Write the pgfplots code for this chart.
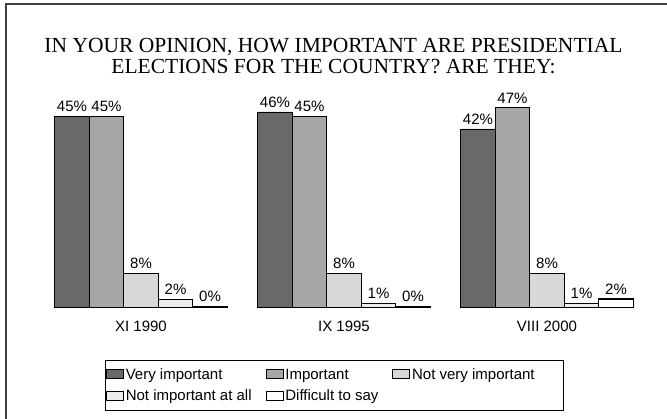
\documentclass[border=0pt]{standalone}
\usepackage{pgfplots}
\pgfplotsset{compat=1.18}
\usepackage{fontspec}
\setmainfont{Liberation Serif}
\setsansfont{Liberation Sans}
\definecolor{c1}{RGB}{105,105,105}
\definecolor{c2}{RGB}{166,166,166}
\definecolor{c3}{RGB}{216,216,216}
\definecolor{c4}{RGB}{236,236,236}
\definecolor{c5}{RGB}{255,255,255}
\newcommand{\lab}{\fontsize{15}{18}\selectfont\sffamily}
\begin{document}
\begin{tikzpicture}[x=1pt,y=1pt]
\useasboundingbox (0,0) rectangle (667,419);
\draw[black!75, line width=1.2pt] (6,0) -- (6,415) -- (667,415);
\node[font=\fontsize{21.5}{24}\selectfont, anchor=base, inner sep=0pt] at (333.5,366) {IN YOUR OPINION, HOW IMPORTANT ARE PRESIDENTIAL};
\node[font=\fontsize{21.5}{24}\selectfont, anchor=base, inner sep=0pt] at (333.5,345) {ELECTIONS FOR THE COUNTRY? ARE THEY:};
\begin{axis}[
  at={(39.5pt,111.5pt)}, anchor=south west,
  scale only axis, width=609pt, height=212.5pt,
  clip=false,
  ybar=0pt, bar width=34.5pt,
  xmin=-0.5, xmax=2.5, ymin=0, ymax=50,
  xtick={0,1,2}, xticklabels={XI 1990, IX 1995, VIII 2000},
  ytick=\empty,
  axis line style={draw=none},
  major tick length=0pt,
  /pgf/number format/assume math mode=true,
  xticklabel style={font=\lab, anchor=base, yshift=-24pt},
  nodes near coords={\pgfmathprintnumber[assume math mode=true]{\pgfplotspointmeta}\%},
  nodes near coords style={font=\lab, anchor=south, inner sep=4pt},
  every axis plot/.append style={draw=black, line width=0.8pt},
  every axis plot post/.append style={legend image code/.code={\draw[#1, line width=0.7pt] (0pt,-4pt) rectangle (17pt,5pt);}},
  legend columns=3,
  legend cell align=left,
  legend style={at={(rel axis cs:0.107,-0.245)}, anchor=north west, draw=black, line width=0.8pt,
    font=\lab, inner xsep=1pt, inner ysep=6.5pt, row sep=5pt,
    nodes={inner xsep=2pt, inner ysep=2pt},
    /tikz/every even column/.append style={column sep=12pt}},
]
\addplot[fill=c1] coordinates {(0,45) (1,46) (2,42)};
\addplot[fill=c2] coordinates {(0,45) (1,45) (2,47)};
\addplot[fill=c3] coordinates {(0,8) (1,8) (2,8)};
\addplot[fill=c4] coordinates {(0,2) (1,1) (2,1)};
\addplot[fill=c5, line width=1.2pt, point meta=explicit] coordinates {(0,0.25) [0] (1,0.25) [0] (2,2) [2]};
\legend{Very important, Important, Not very important\rule{26pt}{0pt}, Not important at all, Difficult to say}
\end{axis}
\end{tikzpicture}
\end{document}
